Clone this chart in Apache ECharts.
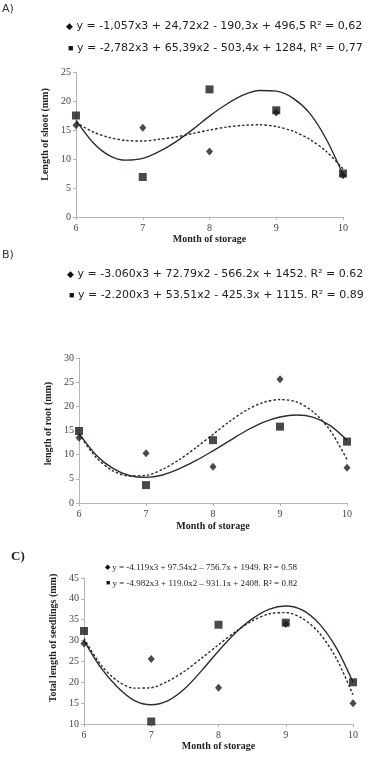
<!DOCTYPE html>
<html>
<head>
<meta charset="utf-8">
<script src="https://cdn.jsdelivr.net/npm/echarts@6/dist/echarts.min.js"></script>
<style>
  html, body { margin: 0; padding: 0; background: #fff; }
  #chart { width: 380px; height: 768px; }
</style>
</head>
<body>
<div id="chart"></div>
<script>
// months of storage (x values of the points)
var months = [6, 7, 8, 9, 10];
var curveX = [6, 6.25, 6.5, 6.75, 7, 7.25, 7.5, 7.75, 8, 8.25, 8.5, 8.75, 9, 9.25, 9.5, 9.75, 10];

// A) length of shoot
var shootDiamond = [15.8, 15.4, 11.3, 18.0, 7.2];
var shootSquare = [17.5, 6.9, 22.0, 18.4, 7.5];
var shootDotted = [16.3, 14.7, 13.7, 13.2, 13.1, 13.4, 13.8, 14.4, 15.0, 15.5, 15.8, 15.9, 15.6, 14.8, 13.4, 11.3, 8.3];
var shootSolid = [16.7, 12.9, 10.6, 9.8, 10.1, 11.3, 13.0, 15.1, 17.4, 19.4, 21.0, 21.8, 21.7, 20.5, 17.9, 13.4, 7.3];

// B) length of root
var rootDiamond = [13.5, 10.3, 7.5, 25.6, 7.3];
var rootSquare = [14.9, 3.7, 13.0, 15.8, 12.7];
var rootDotted = [14.3, 9.5, 6.7, 5.6, 5.7, 7.0, 9.0, 11.5, 14.2, 16.9, 19.2, 20.8, 21.4, 20.9, 18.8, 15.0, 9.0];
var rootSolid = [14.4, 10.0, 7.2, 5.7, 5.3, 5.8, 7.1, 8.8, 10.8, 12.9, 15.0, 16.7, 17.8, 18.2, 17.7, 16.0, 13.0];

// C) total length of seedlings
var seedDiamond = [29.3, 25.6, 18.7, 34.0, 15.0];
var seedSquare = [32.3, 10.6, 33.8, 34.3, 20.0];
var seedDotted = [30.5, 24.2, 20.3, 18.6, 18.7, 20.3, 22.7, 25.8, 29.0, 32.1, 34.7, 36.4, 36.7, 35.3, 31.8, 25.8, 17.0];
var seedSolid = [30.0, 23.5, 18.8, 15.6, 14.6, 15.6, 18.5, 22.8, 27.5, 31.8, 35.2, 37.5, 38.3, 37.3, 34.0, 28.3, 20.0];

// texts
var eqA = ['y = -1,057x3 + 24,72x2 - 190,3x + 496,5 R² = 0,62',
           'y = -2,782x3 + 65,39x2 - 503,4x + 1284, R² = 0,77'];
var eqB = ['y = -3.060x3 + 72.79x2 - 566.2x + 1452. R² = 0.62',
           'y = -2.200x3 + 53.51x2 - 425.3x + 1115. R² = 0.89'];
var eqC = ['y = -4.119x3 + 97.54x2 \u2013 756.7x + 1949. R² = 0.58',
           'y = -4.982x3 + 119.0x2 \u2013 931.1x + 2408. R² = 0.82'];
var yNames = ['Length of shoot (mm)', 'length of root (mm)', 'Total length of seedlings (mm)'];
var xName = 'Month of storage';

function pairs(xs, ys) {
  return xs.map(function (x, i) { return [x, ys[i]]; });
}

var serif = '"Liberation Serif", "DejaVu Serif", serif';
var sans = '"DejaVu Sans", Verdana, sans-serif';
var axisGray = '#b5b5b5';
var ink = '#1c1c1c';

function xAxis(gi, nameGap) {
  return {
    type: 'value', gridIndex: gi, min: 6, max: 10, interval: 1,
    name: xName, nameLocation: 'middle', nameGap: nameGap,
    nameTextStyle: { fontFamily: serif, fontWeight: 'bold', fontSize: 10, color: '#222' },
    axisLine: { lineStyle: { color: axisGray, width: 1 } },
    axisTick: { show: true, length: 3, lineStyle: { color: axisGray } },
    axisLabel: { fontFamily: serif, fontSize: 10, color: '#444', margin: 6 },
    splitLine: { show: false }
  };
}
function yAxis(gi, min, max, name, nameGap, shift) {
  return {
    type: 'value', gridIndex: gi, min: min, max: max, interval: 5,
    name: name, nameLocation: 'middle', nameGap: nameGap, nameRotate: 90,
    nameTextStyle: { fontFamily: serif, fontWeight: 'bold', fontSize: 10, color: '#222',
                     padding: [0, 0, 0, shift] },
    axisLine: { show: true, lineStyle: { color: axisGray, width: 1 } },
    axisTick: { show: true, length: 3, lineStyle: { color: axisGray } },
    axisLabel: { fontFamily: serif, fontSize: 10, color: '#444', margin: 5 },
    splitLine: { show: false }
  };
}
function panelSeries(gi, dia, sq, dotted, solid) {
  return [
    { type: 'line', xAxisIndex: gi, yAxisIndex: gi, data: pairs(curveX, dotted), smooth: 0.3,
      showSymbol: false, lineStyle: { color: '#2a2a2a', width: 1.4, type: [2.5, 2] }, z: 2 },
    { type: 'line', xAxisIndex: gi, yAxisIndex: gi, data: pairs(curveX, solid), smooth: 0.3,
      showSymbol: false, lineStyle: { color: '#3a2626', width: 1.4 }, z: 2 },
    { type: 'scatter', xAxisIndex: gi, yAxisIndex: gi, data: pairs(months, dia),
      symbol: 'diamond', symbolSize: [7, 8], itemStyle: { color: ink }, z: 3 },
    { type: 'scatter', xAxisIndex: gi, yAxisIndex: gi, data: pairs(months, sq),
      symbol: 'rect', symbolSize: 8, itemStyle: { color: ink }, z: 4 }
  ];
}
function eqText(x, y, sym, str, font, size) {
  return {
    type: 'text', left: x, top: y,
    style: {
      text: '{s|' + sym + '} ' + str,
      font: size + 'px ' + font, fill: '#222',
      rich: { s: { fontSize: size - 2, fill: '#111' } }
    }
  };
}

var option = {
  backgroundColor: '#fff',
  animation: false,
  grid: [
    { left: 76, right: 37, top: 72, height: 145 },
    { left: 79, right: 33, top: 358, height: 145 },
    { left: 84, right: 27, top: 578, height: 146 }
  ],
  xAxis: [xAxis(0, 17), xAxis(1, 18), xAxis(2, 17)],
  yAxis: [
    yAxis(0, 0, 25, yNames[0], 19, 20),
    yAxis(1, 0, 30, yNames[1], 17, 14),
    yAxis(2, 10, 45, yNames[2], 18, 26)
  ],
  series: [].concat(
    panelSeries(0, shootDiamond, shootSquare, shootDotted, shootSolid),
    panelSeries(1, rootDiamond, rootSquare, rootDotted, rootSolid),
    panelSeries(2, seedDiamond, seedSquare, seedDotted, seedSolid)
  ),
  graphic: [
    { type: 'text', left: 2, top: 4, style: { text: 'A)', font: '11px ' + sans, fill: '#333' } },
    { type: 'text', left: 2, top: 250, style: { text: 'B)', font: '11px ' + sans, fill: '#333' } },
    { type: 'text', left: 11, top: 550, style: { text: 'C)', font: 'bold 13px ' + serif, fill: '#222' } },
    eqText(66, 21, '\u25C6', eqA[0], sans, 11),
    eqText(68, 43, '\u25A0', eqA[1], sans, 11),
    eqText(67, 269, '\u25C6', eqB[0], sans, 11),
    eqText(69, 290, '\u25A0', eqB[1], sans, 11),
    eqText(105, 563, '\u25C6', eqC[0], serif, 9),
    eqText(106, 579, '\u25A0', eqC[1], serif, 9)
  ]
};

echarts.init(document.getElementById('chart')).setOption(option);
</script>
</body>
</html>
